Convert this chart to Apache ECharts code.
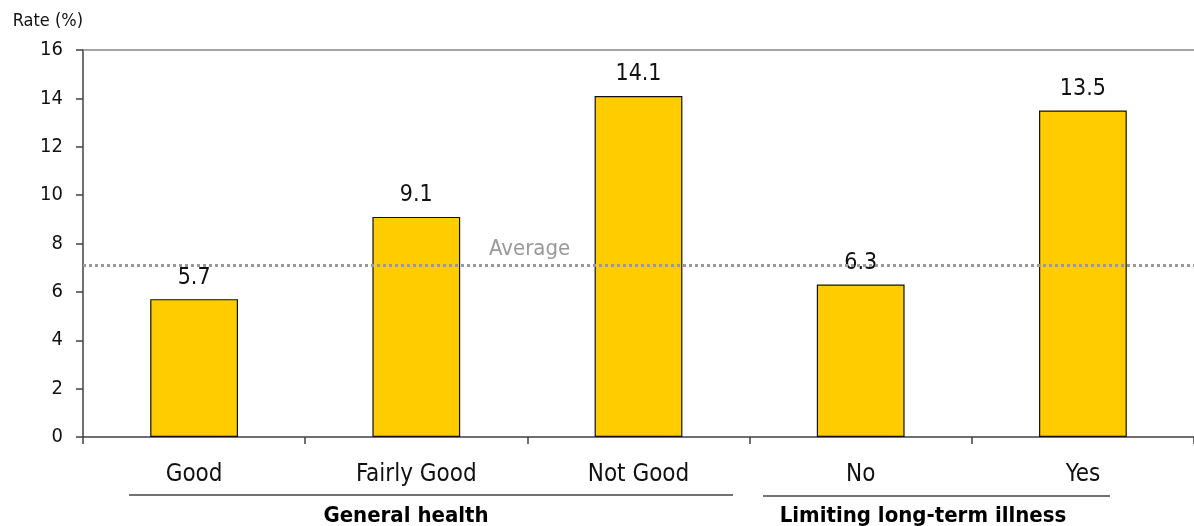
<!DOCTYPE html>
<html>
<head>
<meta charset="utf-8">
<script src="https://cdn.jsdelivr.net/npm/echarts@6/dist/echarts.min.js"></script>
<style>
html,body{margin:0;padding:0;background:#fff;}
#chart{width:1194px;height:526px;}
</style>
</head>
<body>
<div id="chart"></div>
<script>
const categories = ['Good', 'Fairly Good', 'Not Good', 'No', 'Yes'];
const rates = [5.7, 9.1, 14.1, 6.3, 13.5];
const average = 7.1;
const yTicks = { min: 0, max: 16, interval: 2 };
const groupNames = ['General health', 'Limiting long-term illness'];
const FONT = '"DejaVu Sans Condensed", "DejaVu Sans", sans-serif';

const chart = echarts.init(document.getElementById('chart'), null, { renderer: 'canvas' });
chart.setOption({
  animation: false,
  backgroundColor: '#fff',
  grid: { left: 83, right: -4, top: 50, bottom: 89 },
  xAxis: [{
    type: 'category',
    data: categories,
    position: 'bottom',
    axisLine: { lineStyle: { color: '#404040', width: 1.5 } },
    axisTick: { show: true, length: 7, lineStyle: { color: '#404040', width: 1.5 } },
    axisLabel: { margin: 26, fontSize: 24, color: '#111', fontFamily: FONT }
  }, {
    type: 'category',
    data: categories,
    position: 'top',
    axisLine: { lineStyle: { color: '#888', width: 1.5 } },
    axisTick: { show: false },
    axisLabel: { show: false }
  }],
  yAxis: {
    type: 'value',
    min: yTicks.min, max: yTicks.max, interval: yTicks.interval,
    name: 'Rate (%)',
    nameLocation: 'end',
    nameGap: 29,
    nameTextStyle: { align: 'right', verticalAlign: 'middle', fontSize: 18, color: '#111', fontFamily: FONT },
    axisLine: { show: true, lineStyle: { color: '#404040', width: 1.5 } },
    axisTick: { show: true, length: 7, lineStyle: { color: '#404040', width: 1.5 } },
    axisLabel: { margin: 20, fontSize: 20, color: '#111', fontFamily: FONT },
    splitLine: { show: false }
  },
  series: [{
    type: 'bar',
    data: rates,
    barWidth: '39.5%',
    itemStyle: { color: '#FFCC00', borderColor: '#111', borderWidth: 1.2 },
    label: { show: true, position: 'top', distance: 10, fontSize: 23, color: '#111', fontFamily: FONT },
    markLine: {
      silent: true,
      symbol: 'none',
      z: 10,
      data: [{ yAxis: average }],
      lineStyle: { color: '#999', type: [3, 3], width: 3 },
      label: { show: true, formatter: 'Average', position: 'insideStartTop', distance: [406, 5], color: '#999', fontSize: 22, fontFamily: FONT }
    }
  }],
  graphic: [
    { type: 'line', shape: { x1: 129, y1: 495, x2: 733, y2: 495 }, style: { stroke: '#444', lineWidth: 1.5 } },
    { type: 'line', shape: { x1: 763, y1: 496, x2: 1110, y2: 496 }, style: { stroke: '#444', lineWidth: 1.5 } },
    { type: 'text', x: 406, y: 516, style: { text: groupNames[0], font: 'bold 22px ' + FONT, fill: '#000', textAlign: 'center', textVerticalAlign: 'middle' } },
    { type: 'text', x: 923, y: 516, style: { text: groupNames[1], font: 'bold 22px ' + FONT, fill: '#000', textAlign: 'center', textVerticalAlign: 'middle' } }
  ]
});
</script>
</body>
</html>
